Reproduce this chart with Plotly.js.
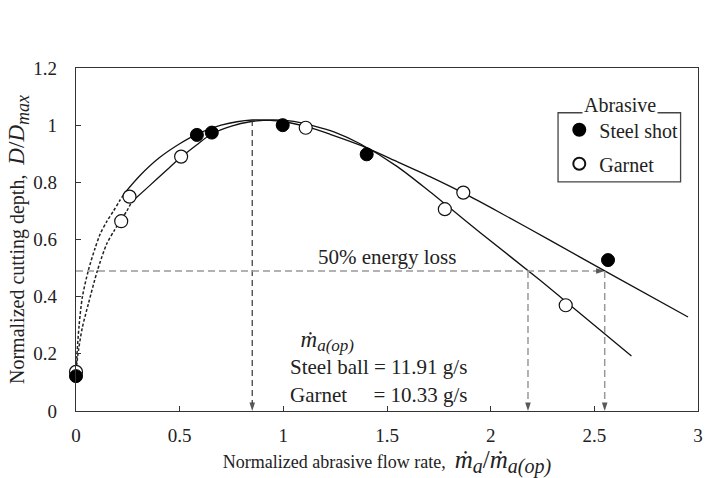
<!DOCTYPE html>
<html>
<head>
<meta charset="utf-8">
<script src="https://cdn.plot.ly/plotly-3.0.1.min.js"></script>
<style>html,body{margin:0;padding:0;background:#fff;}#chart{width:707px;height:478px;}</style>
</head>
<body>
<div id="chart"></div>
<script>
// Measured data points
const steelX = [0, 0.583, 0.655, 0.997, 1.402, 2.566];
const steelY = [0.122, 0.966, 0.974, 1.0, 0.898, 0.528];
const garnetX = [0, 0.218, 0.258, 0.507, 1.108, 1.779, 1.868, 2.362];
const garnetY = [0.137, 0.664, 0.75, 0.89, 0.991, 0.706, 0.764, 0.37];

// Fitted curves (dotted = extrapolated part)
const fitA_dotX = [0, 0.004, 0.015, 0.031, 0.06, 0.09, 0.117, 0.15, 0.181, 0.21, 0.237];
const fitA_dotY = [0.13, 0.19, 0.30, 0.40, 0.493, 0.565, 0.62, 0.665, 0.70, 0.735, 0.765];
const fitA_solX = [0.237, 0.31, 0.40, 0.50, 0.58, 0.70, 0.85, 1.0, 1.12, 1.226, 1.37, 1.55, 1.707, 1.87, 2.05, 2.285, 2.55, 2.952];
const fitA_solY = [0.765, 0.825, 0.885, 0.935, 0.967, 1.0, 1.018, 1.012, 0.993, 0.968, 0.93, 0.872, 0.82, 0.762, 0.692, 0.598, 0.49, 0.329];
const fitB_dotX = [0, 0.012, 0.03, 0.06, 0.104, 0.149, 0.185, 0.216, 0.245, 0.269];
const fitB_dotY = [0.14, 0.213, 0.29, 0.376, 0.493, 0.586, 0.632, 0.668, 0.70, 0.732];
const fitB_solX = [0.269, 0.35, 0.43, 0.51, 0.58, 0.655, 0.75, 0.84, 0.95, 1.05, 1.15, 1.25, 1.37, 1.55, 1.707, 1.779, 1.95, 2.237, 2.362, 2.679];
const fitB_solY = [0.732, 0.785, 0.838, 0.89, 0.93, 0.97, 0.997, 1.012, 1.018, 1.013, 0.997, 0.975, 0.935, 0.855, 0.767, 0.725, 0.624, 0.458, 0.383, 0.192];

// Reference values
const optRate = 0.85, optPeak = 1.018;
const lossLevel = 0.49;
const lossRates = [2.18, 2.55];
const xTicks = [0, 0.5, 1, 1.5, 2, 2.5, 3];
const xTickText = ['0', '0.5', '1', '1.5', '2', '2.5', '3'];
const yTicks = [0, 0.2, 0.4, 0.6, 0.8, 1, 1.2];
const yTickText = ['0', '0.2', '0.4', '0.6', '0.8', '1', '1.2'];

const FONT = 'Liberation Serif, Times New Roman, serif';
const curveLine = {color: '#111', width: 1.3, shape: 'spline', smoothing: 0.8};
const dotLine = {color: '#222', width: 1.5, dash: '3px,2px', shape: 'spline', smoothing: 0.8};
const arrowMarker = {symbol: 'arrow', angleref: 'previous', size: [0, 9], color: '#111', line: {width: 0}};

const traces = [
  {x: fitA_dotX, y: fitA_dotY, mode: 'lines', line: dotLine, showlegend: false, hoverinfo: 'skip'},
  {x: fitB_dotX, y: fitB_dotY, mode: 'lines', line: dotLine, showlegend: false, hoverinfo: 'skip'},
  {x: fitA_solX, y: fitA_solY, mode: 'lines', line: curveLine, showlegend: false, hoverinfo: 'skip'},
  {x: fitB_solX, y: fitB_solY, mode: 'lines', line: curveLine, showlegend: false, hoverinfo: 'skip'},
  {x: [optRate, optRate], y: [optPeak, 0], mode: 'lines+markers', line: {color: '#333', width: 1.2, dash: '6px,4px'},
   marker: arrowMarker, showlegend: false, hoverinfo: 'skip', cliponaxis: false},
  {x: [0, lossRates[1]], y: [lossLevel, lossLevel], mode: 'lines+markers', line: {color: '#999', width: 1.5, dash: '7px,4px'},
   marker: arrowMarker, showlegend: false, hoverinfo: 'skip', cliponaxis: false},
  {x: [lossRates[0], lossRates[0]], y: [lossLevel, 0], mode: 'lines+markers', line: {color: '#999', width: 1.5, dash: '7px,4px'},
   marker: arrowMarker, showlegend: false, hoverinfo: 'skip', cliponaxis: false},
  {x: [lossRates[1], lossRates[1]], y: [lossLevel, 0], mode: 'lines+markers', line: {color: '#999', width: 1.5, dash: '7px,4px'},
   marker: arrowMarker, showlegend: false, hoverinfo: 'skip', cliponaxis: false},
  {x: garnetX, y: garnetY, mode: 'markers', name: 'Garnet', legendgroup: 'g', legendrank: 2,
   marker: {symbol: 'circle', size: 13, color: '#fff', line: {color: '#111', width: 1.2}}, cliponaxis: false},
  {x: steelX, y: steelY, mode: 'markers', name: 'Steel shot', legendgroup: 's', legendrank: 1,
   marker: {symbol: 'circle', size: 13, color: '#000', line: {color: '#000', width: 1}}, cliponaxis: false}
];

const annFont = {family: FONT, size: 21, color: '#222'};
const annotations = [
  {x: 1.5, y: lossLevel, xref: 'x', yref: 'y', text: '50% energy loss', showarrow: false,
   yanchor: 'bottom', yshift: 0, font: annFont},
  {x: 1.023, y: 0.0, xref: 'x', yref: 'y', xanchor: 'left', yanchor: 'bottom', yshift: 2, align: 'left', showarrow: false,
   text: '\u00a0\u00a0<span style="font-size:23px"><i>ṁ</i></span><sub><span style="font-size:17px"><i>a(op)</i></span></sub><br>Steel ball = 11.91 g/s<br>Garnet\u00a0\u00a0\u00a0\u00a0 = 10.33 g/s',
   font: annFont},
  {x: 0.8746, y: 0.892, xref: 'paper', yref: 'paper', xanchor: 'center', yanchor: 'middle', text: 'Abrasive', showarrow: false, bgcolor: '#fff',
   borderpad: 1, font: {family: FONT, size: 20, color: '#222'}}
];

const xMath = '<span style="font-size:25px"><i>ṁ</i><sub><span style="font-size:20px"><i>a</i></span></sub>/<i>ṁ</i><sub><span style="font-size:20px"><i>a(op)</i></span></sub></span>';
const yMath = '<span style="font-size:23px"><i>D</i>/<i>D</i><sub><span style="font-size:18px"><i>max</i></span></sub></span>';

const layout = {
  width: 707, height: 478,
  margin: {l: 76, r: 9, t: 68, b: 67},
  paper_bgcolor: '#fff', plot_bgcolor: '#fff',
  font: {family: FONT, size: 17, color: '#222'},
  showlegend: true,
  legend: {x: 0.777, y: 0.877, xanchor: 'left', yanchor: 'top', bgcolor: 'rgba(0,0,0,0)', borderwidth: 0,
    font: {family: FONT, size: 20, color: '#222'}, traceorder: 'grouped', tracegroupgap: 5, itemsizing: 'constant'},
  xaxis: {range: [0, 3], tickvals: xTicks, ticktext: xTickText, ticks: 'inside', ticklen: 5, tickcolor: '#333',
    showline: true, linecolor: '#333', linewidth: 1.3, mirror: true, showgrid: false, zeroline: false,
    ticklabelstandoff: 7, tickfont: {family: FONT, size: 19, color: '#222'},
    title: {text: 'Normalized abrasive flow rate,\u00a0\u00a0' + xMath, standoff: 12,
      font: {family: FONT, size: 18, color: '#222'}}},
  yaxis: {range: [0, 1.2], tickvals: yTicks, ticktext: yTickText, ticks: 'inside', ticklen: 5, tickcolor: '#333',
    showline: true, linecolor: '#333', linewidth: 1.3, mirror: true, showgrid: false, zeroline: false,
    ticklabelstandoff: 14, tickfont: {family: FONT, size: 19, color: '#222'},
    title: {text: 'Normalized cutting depth,\u00a0\u00a0' + yMath, standoff: 2,
      font: {family: FONT, size: 20, color: '#222'}}},
  shapes: [
    {type: 'rect', xref: 'paper', yref: 'paper', x0: 0.775, x1: 0.972, y0: 0.668, y1: 0.8695,
     line: {color: '#444', width: 1.3}, fillcolor: 'rgba(0,0,0,0)', layer: 'below'}
  ],
  annotations: annotations
};

Plotly.newPlot('chart', traces, layout, {staticPlot: true, displayModeBar: false});
</script>
</body>
</html>
